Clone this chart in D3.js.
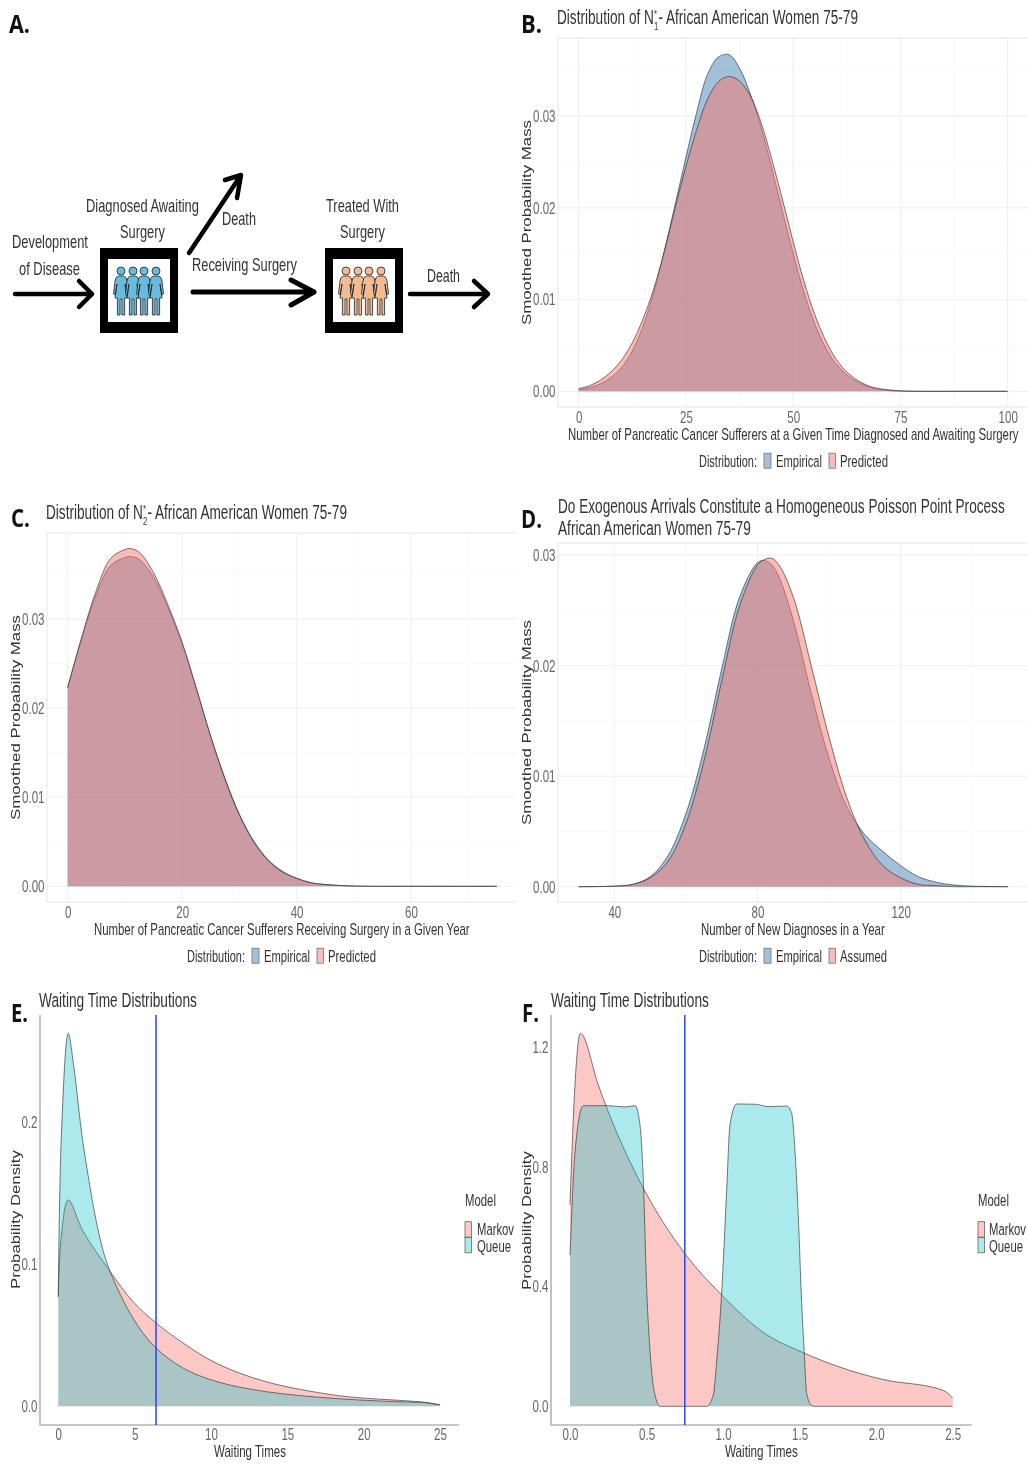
<!DOCTYPE html>
<html>
<head>
<meta charset="utf-8">
<style>
  html, body { margin: 0; background: #fff; }
  svg { display: block; filter: blur(0.45px); font-family: "Liberation Sans", Arial, sans-serif; }
</style>
<script src="https://cdn.jsdelivr.net/npm/d3@7"></script>
</head>
<body>
<div id="chart"></div>
<script>
// panel B
var bX = [0,2.5,5,7.5,10,12.5,15,17.5,20,22.5,25,27.5,30,32.5,35,37.5,40,42.5,45,47.5,50,52.5,55,57.5,60,62.5,65,67.5,70,75,80,90,100];
var bEmpirical = [.0002,.0004,.0008,.0015,.0026,.0044,.0071,.0108,.0154,.0204,.0255,.0304,.0345,.0364,.0367,.0352,.0324,.0288,.0243,.0196,.0150,.0108,.0074,.0048,.0030,.0018,.0010,.0005,.0002,.00003,0,0,0];
var bPredicted = [.0003,.0006,.0012,.0021,.0034,.0053,.0079,.0112,.0153,.0200,.0245,.0285,.0318,.0337,.0343,.0338,.0322,.0293,.0253,.0209,.0163,.0120,.0084,.0056,.0035,.0021,.0012,.0006,.0003,.00005,0,0,0];

// panel C
var cX = [0,2.5,5,7.5,10,11,12.5,15,17.5,20,22.5,25,27.5,30,32.5,35,37.5,40,42.5,45,50,60,75];
var cEmpirical = [.0223,.0279,.0328,.0360,.0369,.0370,.0367,.0347,.0313,.0272,.0221,.0168,.0121,.0081,.0051,.0030,.0017,.0009,.0004,.0002,.00003,0,0];
var cPredicted = [.0223,.0281,.0332,.0368,.0378,.0379,.0375,.0352,.0316,.0274,.0222,.0168,.0120,.0080,.0050,.0029,.0016,.0009,.0004,.0002,.00003,0,0];

// panel D
var dX = [30,40,45,50,55,60,65,70,75,80,82,84,86,90,95,100,105,110,115,120,125,130,135,140,150];
var dEmpirical = [0,.00005,.0002,.0009,.0028,.0066,.0124,.0197,.0262,.0293,.0295,.0291,.0280,.0241,.0175,.0116,.0072,.0047,.0032,.0019,.0009,.0004,.00015,.00005,0];
var dAssumed = [0,.00005,.0002,.0008,.0023,.0057,.0113,.0186,.0254,.0291,.0296,.0297,.0291,.0262,.0200,.0135,.0080,.0042,.0019,.0008,.0002,.0001,0,0,0];

// panel E
var eMarkovX = [0,0.2,0.65,1.64,3.4,4.9,6.3,8.2,10.4,13.6,18,20.2,22,24,25];
var eMarkov = [.077,.120,.145,.1227,.0946,.0735,.0595,.0443,.030,.0173,.008,.0056,.0044,.0028,.001];
var eQueueX = [0,0.2,0.65,1.0,1.64,2.73,3.4,4.9,6.3,8.2,10.4,13.6,18,22,24,25];
var eQueue = [.077,.190,.262,.240,.1836,.118,.0946,.0618,.042,.0267,.0173,.0103,.0056,.0033,.0026,.001];
var eCutoff = 6.4;

// panel F
var fMarkovX = [0,0.03,0.0675,0.185,0.25,0.48,0.75,0.99,1.27,1.51,1.82,2.04,2.43,2.47,2.5];
var fMarkov = [.672,1.05,1.245,1.072,.983,.727,.51,.372,.244,.182,.121,.09,.0545,.043,.027];
var fQueueX = [0,0.033,0.087,0.25,0.36,0.425,0.457,0.48,0.5,0.523,0.555,0.59,0.893,0.936,0.958,0.99,1.023,1.045,1.089,1.21,1.296,1.415,1.448,1.47,1.492,1.513,1.53,1.546,1.58,1.6,2.5];
var fQueue = [.505,.85,1.003,1.003,.999,1.003,.94,.739,.405,.182,.038,0,0,.038,.149,.372,.716,.939,1.009,1.008,1.0,1.002,.978,.85,.627,.349,.182,.043,.002,0,0];
var fCutoff = 0.75;

// panel A
var blueFigures = [121, 133, 144, 156];
var orangeFigures = [346, 358, 369, 381];

var BLUE = "#4682b4", RED = "#f8766d", TEAL = "#00bfc4";
var TICK_K = 0.68;

var svg = d3.select("#chart").append("svg")
  .attr("width", 1028)
  .attr("height", 1464);

// squeezes a string to an exact width, the figure was squashed sideways
function fit(parent, pieces, x, y, width, size, fill, rotate, weight, family) {
  var t = parent.append("text")
    .style("font-size", size + "px")
    .style("fill", fill || "#333");
  if (weight) t.style("font-weight", weight);
  if (family) t.style("font-family", family);
  if (typeof pieces === "string") {
    t.text(pieces);
  } else {
    pieces.forEach(p => {
      var s = t.append("tspan").text(p.text);
      if (p.size) s.style("font-size", p.size + "px");
      if (p.dy) s.attr("dy", p.dy);
      if (p.dx) s.attr("dx", p.dx);
    });
  }
  var k = width / t.node().getComputedTextLength();
  t.attr("transform", "translate(" + x + "," + y + ")" + (rotate ? " rotate(-90)" : "") + " scale(" + k + ",1)");
  return t;
}

function squeezeTicks(g, anchorEnd) {
  g.selectAll(".tick text")
    .style("font-size", "17px")
    .style("fill", "#666")
    .each(function() {
      var t = d3.select(this);
      if (anchorEnd) t.attr("x", +t.attr("x") / TICK_K);
      t.attr("transform", "scale(" + TICK_K + ",1)");
    });
}

function midpoints(ticks) {
  var step = ticks[1] - ticks[0];
  return d3.range(ticks.length + 1).map(i => ticks[0] + (i - 0.5) * step);
}

function panel(cfg) {
  var x = d3.scaleLinear().domain(cfg.xDomain).range(cfg.xRange);
  var y = d3.scaleLinear().domain(cfg.yDomain).range(cfg.yRange);
  var g = svg.append("g");
  var f = cfg.frame;

  if (cfg.grid) {
    var inX = d => x(d) >= f.left && x(d) <= f.right;
    var inY = d => y(d) >= f.top && y(d) <= f.bottom;
    g.selectAll(".minor-y").data(midpoints(cfg.yTicks).filter(inY)).enter().append("line")
      .attr("x1", f.left).attr("x2", f.right).attr("y1", y).attr("y2", y)
      .style("stroke", "#f9f9f9");
    g.selectAll(".minor-x").data(midpoints(cfg.xTicks).filter(inX)).enter().append("line")
      .attr("y1", f.top).attr("y2", f.bottom).attr("x1", x).attr("x2", x)
      .style("stroke", "#f9f9f9");
    g.selectAll(".major-y").data(cfg.yTicks).enter().append("line")
      .attr("x1", f.left).attr("x2", f.right).attr("y1", y).attr("y2", y)
      .style("stroke", "#f2f2f2").style("stroke-width", 1.3);
    g.selectAll(".major-x").data(cfg.xTicks).enter().append("line")
      .attr("y1", f.top).attr("y2", f.bottom).attr("x1", x).attr("x2", x)
      .style("stroke", "#f2f2f2").style("stroke-width", 1.3);
    g.append("path")
      .attr("d", "M" + f.right + "," + f.top + "H" + f.left + "V" + f.bottom + "H" + f.right)
      .style("fill", "none").style("stroke", "#eeeeee").style("stroke-width", 1.5);
  }

  var curve = cfg.curve || d3.curveCatmullRom.alpha(0.5);
  var area = d3.area().x(d => x(d[0])).y0(y(0)).y1(d => y(d[1])).curve(curve);
  var line = d3.line().x(d => x(d[0])).y(d => y(d[1])).curve(curve);

  cfg.series.forEach(s => {
    var pts = d3.zip(s.x, s.y);
    g.append("path").attr("d", area(pts))
      .style("fill", s.color).style("fill-opacity", s.alpha);
    g.append("path").attr("d", line(pts))
      .style("fill", "none").style("stroke", "#333").style("stroke-opacity", 0.65).style("stroke-width", 1);
  });

  if (!cfg.grid) {
    g.append("path")
      .attr("d", "M" + f.left + "," + f.top + "V" + f.bottom + "H" + f.right)
      .style("fill", "none").style("stroke", "#b4b4b4").style("stroke-width", 1.6);
    g.append("line")
      .attr("x1", x(cfg.cutoff)).attr("x2", x(cfg.cutoff))
      .attr("y1", f.top).attr("y2", f.bottom)
      .style("stroke", "#2a45e2").style("stroke-width", 1.5);
  }

  var yAxis = g.append("g").attr("transform", "translate(" + f.left + ",0)")
    .call(d3.axisLeft(y).tickValues(cfg.yTicks).tickFormat(d3.format(cfg.yFormat)).tickSize(0).tickPadding(2.5));
  var xAxis = g.append("g").attr("transform", "translate(0," + f.bottom + ")")
    .call(d3.axisBottom(x).tickValues(cfg.xTicks).tickFormat(d3.format(cfg.xFormat)).tickSize(0).tickPadding(cfg.xPad));
  [yAxis, xAxis].forEach(a => a.select(".domain").remove());
  squeezeTicks(yAxis, true);
  squeezeTicks(xAxis, false);

  cfg.titles.forEach(t => fit(g, t.text, t.x, t.y, t.w, 19.5, "#333"));
  fit(g, cfg.xTitle.text, cfg.xTitle.x, cfg.xTitle.y, cfg.xTitle.w, 16, "#333");
  fit(g, cfg.yTitle.text, cfg.yTitle.x, cfg.yTitle.y, cfg.yTitle.w, 12.5, "#333", true);
  fit(g, cfg.letter.text, cfg.letter.x, cfg.letter.y, cfg.letter.w, 25, "#111", false, "bold", "Open Sans");
}

function nTitle(sub) {
  return [
    {text: "Distribution of N"},
    {text: "*", size: 11, dy: -6},
    {text: sub, size: 11, dy: 12, dx: -4},
    {text: "- African American Women 75-79", dy: -6}
  ];
}

function bottomLegend(left, base, second, widths) {
  var g = svg.append("g");
  fit(g, "Distribution:", left, base, 58, 16.5, "#333");
  [{dx: 65, w: 7, c: BLUE, label: "Empirical", lx: 77, lw: 46},
   {dx: 130, w: 6.5, c: RED, label: second, lx: 141, lw: widths}].forEach(d => {
    g.append("rect").attr("x", left + d.dx).attr("y", base - 13.5).attr("width", d.w).attr("height", 15)
      .style("fill", d.c).style("fill-opacity", 0.5).style("stroke", "#777").style("stroke-width", 0.8);
    fit(g, d.label, left + d.lx, base, d.lw, 16.5, "#333");
  });
}

function sideLegend(left, k) {
  var g = svg.append("g");
  fit(g, "Model", left, 1206, 31, 16.5, "#333");
  [{y: 1221.7, c: RED, label: "Markov", w: 37, a: 0.4, base: 1235},
   {y: 1237.3, c: TEAL, label: "Queue", w: 34, a: 0.33, base: 1251.5}].forEach(d => {
    g.append("rect").attr("x", left).attr("y", d.y).attr("width", 6.5).attr("height", 15.5)
      .style("fill", d.c).style("fill-opacity", d.a).style("stroke", "#666").style("stroke-width", 0.8);
    fit(g, d.label, left + k, d.base, d.w, 16.5, "#333");
  });
}

// panel A, flow diagram
function personPath() {
  return "M-2.5,5 H2.5 Q5.5,5.5 6,10 L7.5,23 L5.8,24 L4,13 L6,27 H3.6 V44 H0.9 V28 H-0.9 V44 H-3.6 V27 H-6 L-4,13 L-5.8,24 L-7.5,23 L-6,10 Q-5.5,5.5 -2.5,5 Z";
}

function stage(x0, figures, color) {
  var g = svg.append("g");
  g.append("rect").attr("x", x0).attr("y", 248).attr("width", 78).attr("height", 85).style("fill", "#000");
  g.append("rect").attr("x", x0 + 8).attr("y", 259).attr("width", 62).attr("height", 63).style("fill", "#fff");
  figures.forEach(px => {
    var p = g.append("g").attr("transform", "translate(" + px + ",271)");
    p.append("path").attr("d", personPath())
      .style("fill", color).style("stroke", "#222").style("stroke-width", 0.8);
    p.append("circle").attr("r", 4)
      .style("fill", color).style("stroke", "#222").style("stroke-width", 0.8);
  });
}

function arrow(d, w) {
  svg.append("path").attr("d", d)
    .style("fill", "none").style("stroke", "#000").style("stroke-width", w)
    .style("stroke-linecap", "round").style("stroke-linejoin", "round");
}

stage(100, blueFigures, "#68bbdc");
stage(325, orangeFigures, "#f2bb92");
arrow("M15,294 H92 M79,281 L92,294 L79,307", 4.5);
arrow("M193,292 H314 M291,280 L314,292 L291,305", 5);
arrow("M410,294 H488 M474,281 L488,294 L474,307", 4.5);
arrow("M189,253 L241,175 M225,180 L241,175 L237,198", 4.5);

var diagramLabels = [
  {text: "Development", x: 12, y: 248, w: 76},
  {text: "of Disease", x: 19, y: 275, w: 61},
  {text: "Diagnosed Awaiting", x: 86, y: 212, w: 113},
  {text: "Surgery", x: 120, y: 238, w: 45},
  {text: "Death", x: 222, y: 225, w: 34},
  {text: "Receiving Surgery", x: 192, y: 271, w: 105},
  {text: "Treated With", x: 326, y: 212, w: 73},
  {text: "Surgery", x: 340, y: 238, w: 45},
  {text: "Death", x: 427, y: 282, w: 33}
];
diagramLabels.forEach(d => fit(svg, d.text, d.x, d.y, d.w, 18, "#333"));
fit(svg, "A.", 9, 33, 21, 25, "#111", false, "bold", "Open Sans");

panel({
  frame: {left: 558, right: 1028, top: 38, bottom: 407},
  grid: true,
  xDomain: [0, 100], xRange: [578.7, 1007.7],
  yDomain: [0, 0.03], yRange: [391.3, 116],
  xTicks: [0, 25, 50, 75, 100], yTicks: [0, 0.01, 0.02, 0.03],
  xFormat: "d", yFormat: ".2f", xPad: 4,
  series: [{x: bX, y: bEmpirical, color: BLUE, alpha: 0.5}, {x: bX, y: bPredicted, color: RED, alpha: 0.5}],
  titles: [{text: nTitle("1"), x: 557, y: 24, w: 304}],
  xTitle: {text: "Number of Pancreatic Cancer Sufferers at a Given Time Diagnosed and Awaiting Surgery", x: 568, y: 440, w: 451},
  yTitle: {text: "Smoothed Probability Mass", x: 531, y: 325, w: 205},
  letter: {text: "B.", x: 521, y: 33, w: 21}
});
bottomLegend(699, 466.7, "Predicted", 48);

panel({
  frame: {left: 47, right: 516, top: 533, bottom: 902},
  grid: true,
  xDomain: [0, 60], xRange: [67.7, 411],
  yDomain: [0, 0.03], yRange: [886.3, 619],
  xTicks: [0, 20, 40, 60], yTicks: [0, 0.01, 0.02, 0.03],
  xFormat: "d", yFormat: ".2f", xPad: 4,
  series: [{x: cX, y: cEmpirical, color: BLUE, alpha: 0.5}, {x: cX, y: cPredicted, color: RED, alpha: 0.5}],
  titles: [{text: nTitle("2"), x: 46, y: 519, w: 304}],
  xTitle: {text: "Number of Pancreatic Cancer Sufferers Receiving Surgery in a Given Year", x: 94, y: 935, w: 376},
  yTitle: {text: "Smoothed Probability Mass", x: 20, y: 820, w: 205},
  letter: {text: "C.", x: 11, y: 527, w: 19}
});
bottomLegend(187, 961.7, "Predicted", 48);

panel({
  frame: {left: 558, right: 1028, top: 543, bottom: 902},
  grid: true,
  xDomain: [40, 120], xRange: [614.3, 900.7],
  yDomain: [0, 0.03], yRange: [886.7, 555],
  xTicks: [40, 80, 120], yTicks: [0, 0.01, 0.02, 0.03],
  xFormat: "d", yFormat: ".2f", xPad: 4,
  series: [{x: dX, y: dEmpirical, color: BLUE, alpha: 0.5}, {x: dX, y: dAssumed, color: RED, alpha: 0.5}],
  titles: [
    {text: "Do Exogenous Arrivals Constitute a Homogeneous Poisson Point Process", x: 558, y: 513, w: 447},
    {text: "African American Women 75-79", x: 558, y: 535, w: 193}
  ],
  xTitle: {text: "Number of New Diagnoses in a Year", x: 701, y: 935, w: 184},
  yTitle: {text: "Smoothed Probability Mass", x: 531, y: 825, w: 205},
  letter: {text: "D.", x: 521, y: 528, w: 21}
});
bottomLegend(699, 961.7, "Assumed", 47);

panel({
  frame: {left: 40, right: 459, top: 1015, bottom: 1425},
  grid: false,
  cutoff: eCutoff,
  xDomain: [0, 25], xRange: [58.3, 440],
  yDomain: [0, 0.2], yRange: [1406.3, 1121.7],
  xTicks: [0, 5, 10, 15, 20, 25], yTicks: [0, 0.1, 0.2],
  xFormat: "d", yFormat: ".1f", xPad: 3,
  series: [{x: eMarkovX, y: eMarkov, color: RED, alpha: 0.4}, {x: eQueueX, y: eQueue, color: TEAL, alpha: 0.33}],
  titles: [{text: "Waiting Time Distributions", x: 39, y: 1007, w: 158}],
  xTitle: {text: "Waiting Times", x: 214, y: 1457, w: 72},
  yTitle: {text: "Probability Density", x: 20, y: 1289, w: 139},
  letter: {text: "E.", x: 11, y: 1022, w: 17}
});
sideLegend(465, 12);

panel({
  frame: {left: 551, right: 971.7, top: 1015, bottom: 1425},
  grid: false,
  cutoff: fCutoff,
  curve: d3.curveMonotoneX,
  xDomain: [0, 2.5], xRange: [570, 952.7],
  yDomain: [0, 1.2], yRange: [1406.3, 1046.7],
  xTicks: [0, 0.5, 1, 1.5, 2, 2.5], yTicks: [0, 0.4, 0.8, 1.2],
  xFormat: ".1f", yFormat: ".1f", xPad: 3,
  series: [{x: fMarkovX, y: fMarkov, color: RED, alpha: 0.4}, {x: fQueueX, y: fQueue, color: TEAL, alpha: 0.33}],
  titles: [{text: "Waiting Time Distributions", x: 551, y: 1007, w: 158}],
  xTitle: {text: "Waiting Times", x: 725, y: 1457, w: 73},
  yTitle: {text: "Probability Density", x: 531, y: 1290, w: 139},
  letter: {text: "F.", x: 522, y: 1022, w: 17}
});
sideLegend(978, 11);
</script>
</body>
</html>
